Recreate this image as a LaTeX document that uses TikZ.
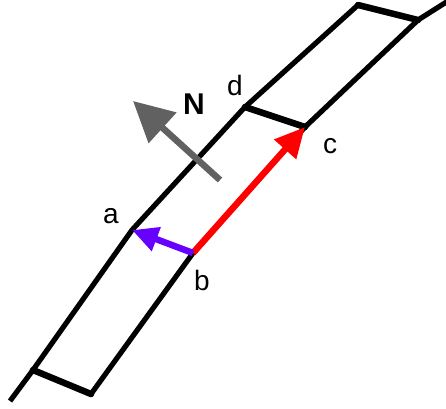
\documentclass[tikz,border=0pt]{standalone}
\usepackage{fontspec}
\setmainfont{Liberation Sans}
\usetikzlibrary{arrows.meta}

\begin{document}
\begin{tikzpicture}[
  x=1pt,y=-1pt,
  wall/.style={line width=5.2pt, draw=black, line join=round},
  rung/.style={line width=6.5pt, draw=black, line cap=round},
  vec/.style={line width=6.5pt},
  lbl/.style={font=\fontsize{28}{32}\selectfont, inner sep=0pt}
]
\useasboundingbox (0,0) rectangle (446,408);
% corner points
\coordinate (a) at (132,230);
\coordinate (b) at (193,253);
\coordinate (c) at (305,127);
\coordinate (d) at (245,107);
\coordinate (bl) at (33,370);
\coordinate (br) at (91,394);
\coordinate (tl) at (358,5);
\coordinate (tr) at (418,20);
% strip edges
\draw[wall] (10,401) -- (bl) -- (a) -- (d) -- (tl);
\draw[wall] (br) -- (b) -- (c) -- (tr) -- (448,1);
\draw[rung] (bl) -- (br);
\draw[rung] (d) -- (c);
\draw[rung] (tl) -- (tr);
% vectors
\draw[vec, draw=black!62, -{Triangle[length=40pt,width=40pt]}] (220,180) -- (133,101);
\draw[vec, draw=red, -{Triangle[length=30pt,width=28pt]}] (b) -- (c);
\draw[vec, draw={rgb,255:red,102;green,0;blue,255}, -{Triangle[length=26pt,width=24pt]}] (b) -- (a);
% labels
\node[lbl, font=\fontsize{30}{34}\selectfont\bfseries] (N) at (194,104) {N};
\node[lbl] (la) at (111,216) {a};
\node[lbl] (lb) at (202,280) {b};
\node[lbl] (lc) at (330,146) {c};
\node[lbl] (ld) at (235,85) {d};
\end{tikzpicture}
\end{document}
